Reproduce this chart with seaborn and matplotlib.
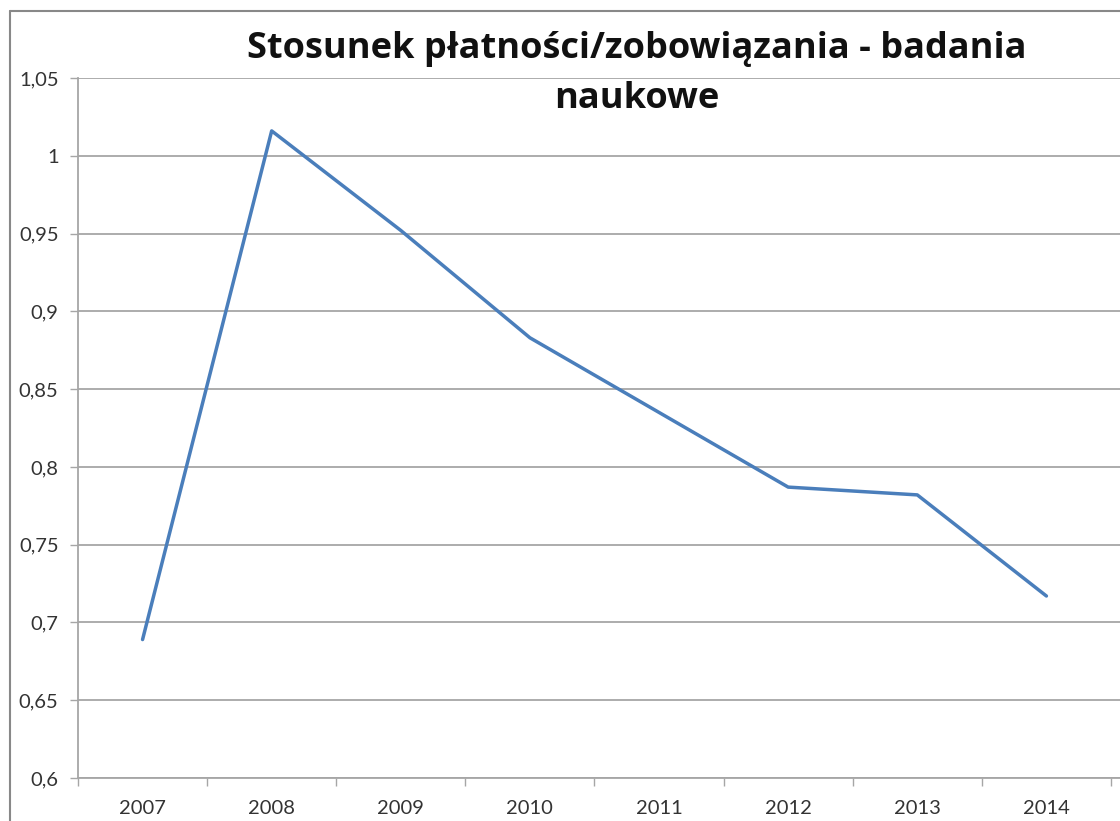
import pandas as pd
import matplotlib.pyplot as plt
import seaborn as sns
from matplotlib.lines import Line2D
from matplotlib.ticker import FixedLocator, FuncFormatter

# dane
lata = ["2007", "2008", "2009", "2010", "2011", "2012", "2013", "2014"]
wartosci = [0.689, 1.016, 0.952, 0.883, 0.835, 0.787, 0.782, 0.717]
y_ticks = [0.6, 0.65, 0.7, 0.75, 0.8, 0.85, 0.9, 0.95, 1.0, 1.05]

df = pd.DataFrame({"rok": lata, "wartosc": wartosci})

sns.set_style("white")
plt.rcParams['font.family'] = ['Lato', 'DejaVu Sans']

fig = plt.figure(figsize=(11.2, 8.21), dpi=100)
ax = fig.add_axes([78 / 1120, 1 - 778 / 821, 1 - 78 / 1120, (778 - 78) / 821])

sns.lineplot(data=df, x="rok", y="wartosc", ax=ax, color="#4A7EBB", linewidth=2.5, sort=False)

ax.set_ylim(0.6, 1.05)
ax.set_xlim(-0.5, 7.57)
ax.yaxis.set_major_locator(FixedLocator(y_ticks))
ax.yaxis.set_major_formatter(FuncFormatter(lambda v, p: f"{v:g}".replace(".", ",")))
ax.grid(axis="y", color="#A6A6A6", linewidth=1.3)
ax.set_axisbelow(True)

# znaczniki osi X pomiędzy kategoriami
ax.set_xticks([i - 0.5 for i in range(len(lata) + 1)], minor=True)
ax.tick_params(axis="x", which="major", length=0, pad=16, labelsize=14.5, labelcolor="#333333")
ax.tick_params(axis="x", which="minor", length=6, width=1, color="#A6A6A6", direction="out")
ax.tick_params(axis="y", which="major", length=6, width=1, color="#A6A6A6", direction="out",
               pad=8, labelsize=14.5, labelcolor="#333333")
ax.xaxis.set_tick_params(bottom=True, which="both")
ax.yaxis.set_tick_params(left=True)

for s in ["top", "right"]:
    ax.spines[s].set_visible(False)
for s in ["left", "bottom"]:
    ax.spines[s].set_color("#A6A6A6")
    ax.spines[s].set_linewidth(1.3)

ax.set_xlabel("")
ax.set_ylabel("")

fig.text(637 / 1120, 1 - 74 / 821, "Stosunek płatności/zobowiązania - badania\nnaukowe",
         ha="center", va="center", fontsize=26, fontweight="bold", linespacing=1.55,
         family=["Open Sans", "DejaVu Sans"], color="#111111")

# ramka obszaru wykresu
fig.add_artist(Line2D([10 / 1120, 10 / 1120], [0, 1 - 11 / 821], transform=fig.transFigure,
                      color="#888888", linewidth=1.5))
fig.add_artist(Line2D([10 / 1120, 1], [1 - 11 / 821, 1 - 11 / 821], transform=fig.transFigure,
                      color="#888888", linewidth=1.5))

fig.savefig("out.png", dpi=100)
